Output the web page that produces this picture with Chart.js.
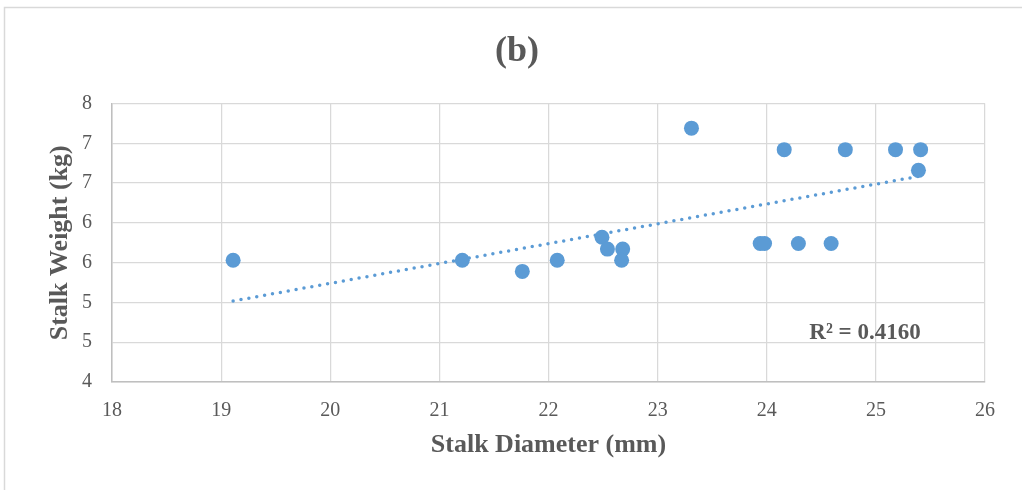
<!DOCTYPE html>
<html>
<head>
<meta charset="utf-8">
<title>Stalk Diameter vs Stalk Weight</title>
<script src="https://cdn.jsdelivr.net/npm/chart.js@4.4.1/dist/chart.umd.min.js"></script>
<style>
  html, body { margin: 0; padding: 0; background: #ffffff; }
  #wrap { position: relative; width: 1022px; height: 490px; }
</style>
</head>
<body>
<div id="wrap"><canvas id="chart" width="1022" height="490"></canvas></div>
<script>
// stalk measurements
const diameter = [19.11, 21.21, 21.76, 22.08, 22.49, 22.54, 22.68, 22.67, 23.31,
                  23.94, 23.98, 24.16, 24.29, 24.59, 24.72, 25.18, 25.41, 25.39];
const weight = [5.53, 5.53, 5.39, 5.53, 5.82, 5.67, 5.67, 5.53, 7.19,
                5.74, 5.74, 6.92, 5.74, 5.74, 6.92, 6.92, 6.92, 6.66];

const xTickValues = [18, 19, 20, 21, 22, 23, 24, 25, 26];
const yTickValues = [4, 4.5, 5, 5.5, 6, 6.5, 7, 7.5];
const yTickLabels = ['4', '5', '5', '6', '6', '7', '7', '8'];
const chartTitle = '(b)';
const rSquaredText = 'R² = 0.4160';

const blue = '#5b9bd5';
const textGrey = '#595959';
const serif = "'Liberation Serif', 'Times New Roman', serif";

// least squares fit for the trend line
function linearFit(xs, ys) {
    let n = xs.length;
    let mx = xs.reduce((a, b) => a + b, 0) / n;
    let my = ys.reduce((a, b) => a + b, 0) / n;
    let sxy = 0, sxx = 0;
    for (let i = 0; i < n; i++) {
        sxy += (xs[i] - mx) * (ys[i] - my);
        sxx += (xs[i] - mx) * (xs[i] - mx);
    }
    let slope = sxy / sxx;
    return { slope: slope, intercept: my - slope * mx };
}

const fit = linearFit(diameter, weight);
const xMin = Math.min(...diameter);
const xMax = Math.max(...diameter);
const trend = [
    { x: xMin, y: fit.intercept + fit.slope * xMin },
    { x: xMax, y: fit.intercept + fit.slope * xMax }
];
const points = diameter.map((d, i) => ({ x: d, y: weight[i] }));

// outer frame, title and R² label
const extras = {
    id: 'extras',
    beforeDraw(chart) {
        const ctx = chart.ctx;
        ctx.save();
        ctx.strokeStyle = '#d9d9d9';
        ctx.lineWidth = 1.5;
        ctx.strokeRect(4.5, 7.5, 1100, 600);

        ctx.font = 'bold 36px ' + serif;
        ctx.fillStyle = textGrey;
        ctx.textAlign = 'center';
        ctx.textBaseline = 'middle';
        ctx.fillText(chartTitle, 517, 52);
        ctx.restore();
    },
    afterDatasetsDraw(chart) {
        const ctx = chart.ctx;
        const xs = chart.scales.x;
        const ys = chart.scales.y;
        ctx.save();
        ctx.font = 'bold 23px ' + serif;
        ctx.fillStyle = textGrey;
        ctx.textAlign = 'left';
        ctx.textBaseline = 'middle';
        ctx.fillText(rSquaredText, xs.getPixelForValue(24.39), ys.getPixelForValue(4.61));
        ctx.restore();
    }
};

new Chart(document.getElementById('chart'), {
    type: 'scatter',
    data: {
        datasets: [{
            label: 'Stalk Weight',
            data: points,
            backgroundColor: blue,
            borderColor: blue,
            borderWidth: 0,
            pointRadius: 7.5,
            pointHoverRadius: 7.5,
            order: 1
        }, {
            type: 'line',
            label: 'Linear trend',
            data: trend,
            borderColor: blue,
            borderWidth: 3.5,
            borderDash: [0, 8],
            borderCapStyle: 'round',
            pointRadius: 0,
            fill: false,
            order: 2
        }]
    },
    options: {
        responsive: false,
        animation: false,
        layout: { padding: { left: 0, right: 37, top: 103.5, bottom: 0 } },
        plugins: {
            legend: { display: false },
            tooltip: { enabled: false },
            title: { display: false }
        },
        scales: {
            x: {
                type: 'linear',
                min: 18,
                max: 26,
                afterBuildTicks: (scale) => { scale.ticks = xTickValues.map(v => ({ value: v })); },
                afterFit: (scale) => { scale.height = 108; },
                grid: { color: '#d9d9d9', lineWidth: 1.25, drawTicks: false },
                border: { color: '#bfbfbf', width: 1.5 },
                ticks: {
                    color: textGrey,
                    padding: 17,
                    font: { family: serif, size: 20 }
                },
                title: {
                    display: true,
                    text: 'Stalk Diameter (mm)',
                    color: textGrey,
                    font: { family: serif, size: 26, weight: 'bold' },
                    padding: { top: 0, bottom: 29 }
                }
            },
            y: {
                type: 'linear',
                min: 4,
                max: 7.5,
                afterBuildTicks: (scale) => { scale.ticks = yTickValues.map(v => ({ value: v })); },
                afterFit: (scale) => { scale.width = 112; },
                grid: { color: '#d9d9d9', lineWidth: 1.25, drawTicks: false },
                border: { color: '#bfbfbf', width: 1.5 },
                ticks: {
                    color: textGrey,
                    padding: 20,
                    font: { family: serif, size: 20 },
                    callback: (value, index) => yTickLabels[index]
                },
                title: {
                    display: true,
                    text: 'Stalk Weight (kg)',
                    color: textGrey,
                    font: { family: serif, size: 26, weight: 'bold' },
                    padding: { top: 45, bottom: 0 }
                }
            }
        }
    },
    plugins: [extras]
});
</script>
</body>
</html>
